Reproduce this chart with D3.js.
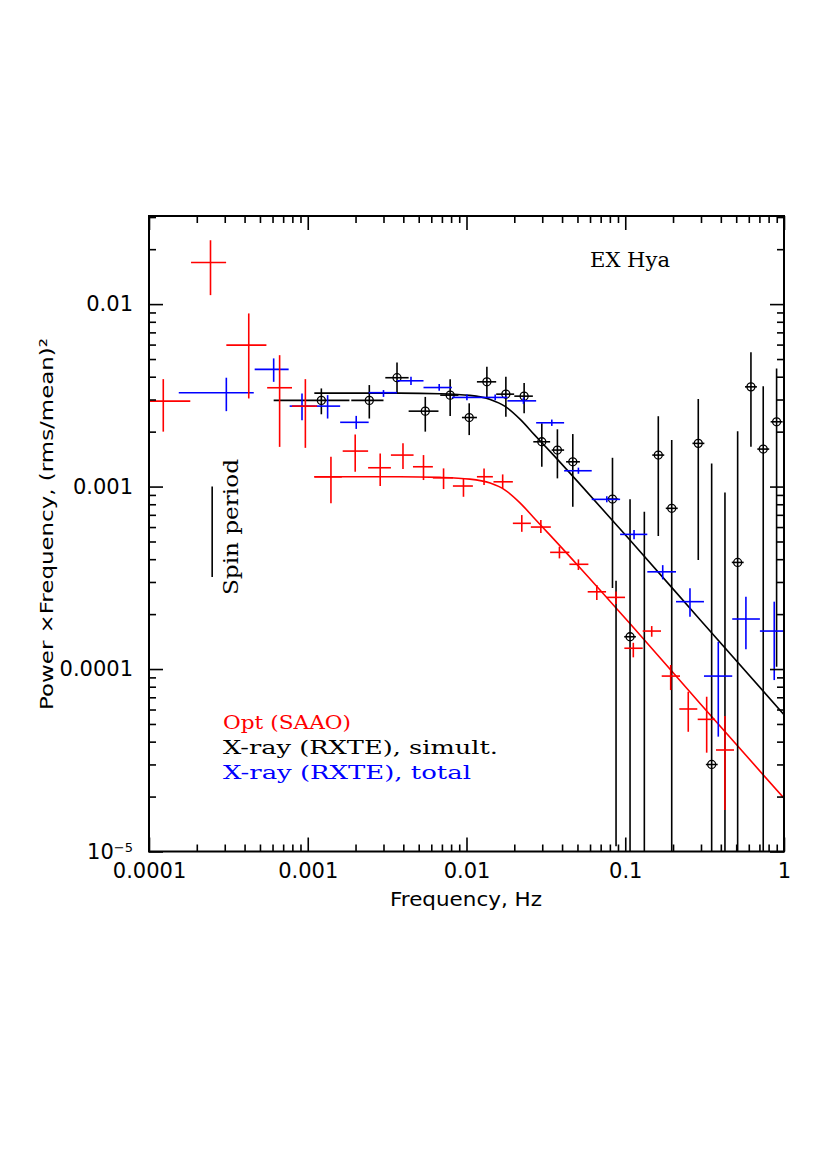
<!DOCTYPE html>
<html><head><meta charset="utf-8">
<script src="https://cdn.jsdelivr.net/npm/d3@7"></script>
<style>body{margin:0;background:#fff}</style>
</head><body><svg id="c" width="830" height="1175"></svg>
<script>
// ---- Optical (SAAO), red ----
const optFreq = [1.23e-4, 2.44e-4, 4.25e-4, 6.65e-4, 9.66e-4, 1.40e-3, 1.99e-3, 2.86e-3, 3.98e-3, 5.36e-3, 7.17e-3, 9.57e-3, 0.0129, 0.0169, 0.0223, 0.0294, 0.0385, 0.0507, 0.0662, 0.0875, 0.1124, 0.1468, 0.1933, 0.2494, 0.3258, 0.4247];
const optVal  = [2.94e-3, 0.0169, 5.96e-3, 3.48e-3, 2.76e-3, 1.13e-3, 1.565e-3, 1.268e-3, 1.488e-3, 1.284e-3, 1.117e-3, 1.007e-3, 1.132e-3, 1.062e-3, 6.29e-4, 6.0e-4, 4.36e-4, 3.75e-4, 2.65e-4, 2.47e-4, 1.30e-4, 1.615e-4, 9.15e-5, 6.04e-5, 5.30e-5, 3.60e-5];
const optFLo  = [1.0e-4, 1.84e-4, 3.07e-4, 5.55e-4, 7.96e-4, 1.10e-3, 1.66e-3, 2.40e-3, 3.34e-3, 4.60e-3, 6.14e-3, 8.21e-3, 0.01163, 0.01479, 0.01959, 0.02543, 0.03363, 0.04448, 0.058, 0.0761, 0.0987, 0.1288, 0.1697, 0.219, 0.286, 0.3728];
const optFHi  = [1.82e-4, 3.06e-4, 5.49e-4, 7.96e-4, 1.145e-3, 1.64e-3, 2.40e-3, 3.34e-3, 4.64e-3, 6.14e-3, 8.21e-3, 0.01097, 0.01466, 0.01959, 0.02543, 0.03398, 0.04448, 0.05858, 0.0757, 0.0997, 0.1288, 0.168, 0.2213, 0.2843, 0.3674, 0.4841];
const optVLo  = [2.0e-3, 0.0112, 3.04e-3, 1.65e-3, 1.63e-3, 8.09e-4, 1.205e-3, 1.007e-3, 1.247e-3, 1.086e-3, 9.69e-4, 8.79e-4, 1.019e-3, 9.77e-4, 5.65e-4, 5.56e-4, 4.04e-4, 3.49e-4, 2.39e-4, 2.27e-4, 1.159e-4, 1.503e-4, 7.67e-5, 4.53e-5, 3.48e-5, 1.688e-5];
const optVHi  = [3.88e-3, 0.0224, 8.89e-3, 5.25e-3, 3.88e-3, 1.456e-3, 1.93e-3, 1.52e-3, 1.725e-3, 1.488e-3, 1.258e-3, 1.109e-3, 1.258e-3, 1.166e-3, 6.98e-4, 6.55e-4, 4.68e-4, 3.99e-4, 2.89e-4, 2.66e-4, 1.393e-4, 1.72e-4, 1.052e-4, 7.51e-5, 7.05e-5, 5.53e-5];

// ---- X-ray (RXTE) total, blue ----
const totFreq = [3.07e-4, 6.1e-4, 9.2e-4, 1.334e-3, 2.02e-3, 3.0e-3, 4.47e-3, 6.73e-3, 0.01006, 0.01516, 0.02285, 0.03446, 0.0507, 0.0765, 0.1136, 0.1722, 0.2557, 0.3855, 0.5756, 0.868];
const totVal  = [3.27e-3, 4.39e-3, 2.76e-3, 2.76e-3, 2.25e-3, 3.27e-3, 3.8e-3, 3.49e-3, 3.08e-3, 3.08e-3, 2.95e-3, 2.237e-3, 1.221e-3, 8.51e-4, 5.47e-4, 3.41e-4, 2.34e-4, 9.15e-5, 1.88e-4, 1.615e-4];
const totFLo  = [1.54e-4, 4.63e-4, 7.69e-4, 1.117e-3, 1.60e-3, 2.42e-3, 3.65e-3, 5.36e-3, 8.09e-3, 0.0125, 0.0181, 0.02746, 0.0412, 0.0615, 0.0928, 0.1377, 0.2088, 0.3132, 0.472, 0.705];
const totFHi  = [4.57e-4, 7.58e-4, 1.117e-3, 1.60e-3, 2.42e-3, 3.65e-3, 5.36e-3, 8.09e-3, 0.0125, 0.0181, 0.02746, 0.0412, 0.0615, 0.0928, 0.1377, 0.2088, 0.3132, 0.472, 0.705, 1.0];
const totVLo  = [2.59e-3, 3.75e-3, 2.31e-3, 2.36e-3, 2.07e-3, 3.1e-3, 3.6e-3, 3.35e-3, 2.97e-3, 2.97e-3, 2.84e-3, 2.15e-3, 1.175e-3, 8.2e-4, 5.14e-4, 3.10e-4, 1.934e-4, 4.26e-5, 1.282e-4, 8.7e-5];
const totVHi  = [3.95e-3, 5.04e-3, 3.24e-3, 3.17e-3, 2.44e-3, 3.38e-3, 4.0e-3, 3.65e-3, 3.2e-3, 3.2e-3, 3.07e-3, 2.33e-3, 1.27e-3, 8.85e-4, 5.78e-4, 3.71e-4, 2.77e-4, 1.411e-4, 2.49e-4, 2.34e-4];

// ---- X-ray (RXTE) simultaneous, black (null = point below plot) ----
const simFreq = [1.218e-3, 2.442e-3, 3.65e-3, 5.50e-3, 7.89e-3, 0.0104, 0.01344, 0.0177, 0.02307, 0.02981, 0.03738, 0.04673, 0.0831, 0.0875, 0.1072, 0.1319, 0.1615, 0.1962, 0.2884, 0.3502, 0.4247, 0.5105, 0.6191, 0.7398, 0.8982];
const simVal  = [2.967e-3, 2.967e-3, 3.95e-3, 2.59e-3, 3.17e-3, 2.39e-3, 3.75e-3, 3.21e-3, 3.13e-3, 1.76e-3, 1.585e-3, 1.367e-3, 8.54e-4, null, 1.503e-4, null, 1.488e-3, 7.6e-4, 1.725e-3, 3.0e-5, null, 3.84e-4, 3.52e-3, 1.605e-3, 2.265e-3];
const simFLo  = [6.1e-4, 1.88e-3, 3.08e-3, 4.32e-3, 6.83e-3, 9.36e-3, 0.01163, 0.01538, 0.0200, 0.02635, 0.0344, 0.0424, 0.0765, 0.0875, 0.0985, 0.1319, 0.148, 0.180, 0.265, 0.322, 0.4247, 0.469, 0.568, 0.679, 0.824];
const simFHi  = [1.83e-3, 3.0e-3, 4.32e-3, 6.66e-3, 8.9e-3, 0.01163, 0.01538, 0.01996, 0.02618, 0.03363, 0.0412, 0.0518, 0.0905, 0.0875, 0.1167, 0.1319, 0.176, 0.214, 0.315, 0.382, 0.4247, 0.557, 0.675, 0.807, 0.98];
const simVLo  = [2.49e-3, 2.36e-3, 3.24e-3, 2.0e-3, 2.44e-3, 1.915e-3, 3.04e-3, 2.41e-3, 2.52e-3, 1.284e-3, 1.109e-3, 7.75e-4, 2.78e-4, 1.07e-5, 1e-5, 1e-5, 5.36e-4, 1e-5, 3.96e-4, 1e-5, 1e-5, 1e-5, 1.652e-3, 1e-5, 1.03e-4];
const simVHi  = [3.45e-3, 3.6e-3, 4.79e-3, 3.1e-3, 3.88e-3, 2.86e-3, 4.53e-3, 4.0e-3, 3.70e-3, 2.22e-3, 2.06e-3, 1.94e-3, 1.438e-3, 3.05e-4, 8.51e-4, 7.28e-4, 2.43e-3, 1.798e-3, 3.02e-3, 1.34e-3, 9.29e-4, 2.01e-3, 5.44e-3, 3.55e-3, 4.44e-3];

// ---- model curves ----
const modelFreq = [0.0011, 0.0038, 0.0068, 0.0105, 0.0141, 0.0175, 0.0218, 0.027, 0.0336, 0.052, 0.107, 0.296, 1];
const optModel  = [1.132e-3, 1.132e-3, 1.123e-3, 1.099e-3, 1.045e-3, 9.57e-4, 8.12e-4, 6.64e-4, 5.42e-4, 3.58e-4, 1.775e-4, 6.48e-5, 1.957e-5];
const simModel  = [3.253e-3, 3.253e-3, 3.229e-3, 3.16e-3, 3.004e-3, 2.751e-3, 2.335e-3, 1.908e-3, 1.559e-3, 1.028e-3, 5.10e-4, 1.862e-4, 5.62e-5];

// ---- spin period marker ----
const spinFreq = 2.5e-4;
const spinRange = [3.19e-4, 1.0e-3];

// ---- axes ticks ----
const xMajor = [1e-4, 1e-3, 1e-2, 1e-1, 1];
const xLabels = ["0.0001", "0.001", "0.01", "0.1", "1"];
const yMajor = [1e-5, 1e-4, 1e-3, 1e-2];
const yLabels = ["10", "0.0001", "0.001", "0.01"];

const legendText = ["Opt (SAAO)", "X-ray (RXTE), simult.", "X-ray (RXTE), total"];
const legendColor = ["#ff0000", "#000000", "#0000ff"];

// ================= drawing =================
const X0 = 149, X1 = 784, Y0 = 851.5, Y1 = 216;
const yTop = 0.0304;
const x = d3.scaleLog().domain([1e-4, 1]).range([X0, X1]);
const y = d3.scaleLog().domain([1e-5, yTop]).range([Y0, Y1]);
const svg = d3.select('#c');

const minorX = [], minorY = [];
for (let e = -4; e < 0; e++) for (let k = 2; k < 10; k++) minorX.push(k * Math.pow(10, e));
for (let e = -5; e < -1; e++) for (let k = 2; k < 10; k++) { const v = k * Math.pow(10, e); if (v < yTop * 0.99) minorY.push(v); }

svg.append('defs').append('clipPath').attr('id', 'clip')
  .append('rect').attr('x', X0).attr('y', Y1).attr('width', X1 - X0).attr('height', Y0 - Y1);

const plot = svg.append('g').attr('clip-path', 'url(#clip)');

// models
const line = d3.line().x(d => x(d[0])).y(d => y(d[1])).curve(d3.curveMonotoneX);
plot.append('path').attr('d', line(modelFreq.map((f, i) => [f, simModel[i]])))
  .attr('fill', 'none').attr('stroke', '#000').attr('stroke-width', 1.6);
plot.append('path').attr('d', line(modelFreq.map((f, i) => [f, optModel[i]])))
  .attr('fill', 'none').attr('stroke', '#ff0000').attr('stroke-width', 1.6);

function drawSeries(freq, val, fLo, fHi, vLo, vHi, color, circles) {
  const g = plot.append('g').attr('stroke', color).attr('stroke-width', 1.6).attr('fill', 'none');
  freq.forEach((f, i) => {
    if (val[i] !== null && fHi[i] > fLo[i]) {
      g.append('line').attr('x1', x(fLo[i])).attr('x2', x(fHi[i]))
        .attr('y1', y(val[i])).attr('y2', y(val[i]));
    }
    g.append('line').attr('x1', x(f)).attr('x2', x(f))
      .attr('y1', y(vLo[i])).attr('y2', y(vHi[i]));
    if (circles && val[i] !== null) {
      g.append('circle').attr('cx', x(f)).attr('cy', y(val[i])).attr('r', 4).attr('stroke-width', 1.3);
    }
  });
}
drawSeries(simFreq, simVal, simFLo, simFHi, simVLo, simVHi, '#000', true);
drawSeries(totFreq, totVal, totFLo, totFHi, totVLo, totVHi, '#0000ff', false);
drawSeries(optFreq, optVal, optFLo, optFHi, optVLo, optVHi, '#ff0000', false);

// spin period marker
svg.append('line').attr('x1', x(spinFreq)).attr('x2', x(spinFreq))
  .attr('y1', y(spinRange[0])).attr('y2', y(spinRange[1]))
  .attr('stroke', '#000').attr('stroke-width', 1.6);
svg.append('text').attr('transform', `translate(${x(spinFreq) + 25.5},595) rotate(-90)`)
  .attr('font-family', 'DejaVu Serif').attr('font-size', 21)
  .attr('textLength', 136).attr('lengthAdjust', 'spacingAndGlyphs')
  .text('Spin period');

// frame
svg.append('rect').attr('x', X0).attr('y', Y1).attr('width', X1 - X0).attr('height', Y0 - Y1)
  .attr('fill', 'none').attr('stroke', '#000').attr('stroke-width', 2);

function ax(gen, tx, ty, vals, size, fmt, pad) {
  const g = svg.append('g').attr('transform', `translate(${tx},${ty})`)
    .call(gen.tickValues(vals).tickSize(size).tickSizeOuter(0).tickPadding(pad || 3).tickFormat(fmt || (() => '')));
  g.select('.domain').remove();
  g.selectAll('.tick line').attr('stroke', '#000').attr('stroke-width', 1.6);
  g.attr('font-family', 'DejaVu Sans').attr('font-size', 21);
  g.selectAll('.tick text').attr('fill', '#000');
  return g;
}
// minor ticks
ax(d3.axisBottom(x), 0, Y0, minorX, -7);
ax(d3.axisTop(x), 0, Y1, minorX, -7);
ax(d3.axisLeft(y), X0, 0, minorY, -7);
ax(d3.axisRight(y), X1, 0, minorY, -7);
// major ticks + labels
ax(d3.axisBottom(x), 0, Y0, xMajor, -14, (d, i) => xLabels[i], 12);
ax(d3.axisTop(x), 0, Y1, xMajor, -14);
const gl = ax(d3.axisLeft(y), X0, 0, yMajor, -14, (d, i) => yLabels[i], 16);
gl.selectAll('.tick text').filter(d => d === 1e-5)
  .append('tspan').attr('dy', '-0.55em').attr('font-size', 13).text('−5');
ax(d3.axisRight(y), X1, 0, yMajor, -14);

// axis titles
svg.append('text').attr('x', 466).attr('y', 906).attr('text-anchor', 'middle')
  .attr('font-family', 'DejaVu Sans').attr('font-size', 19)
  .attr('textLength', 152).attr('lengthAdjust', 'spacingAndGlyphs')
  .text('Frequency, Hz');
svg.append('text').attr('transform', 'translate(53,524) rotate(-90)').attr('text-anchor', 'middle')
  .attr('font-family', 'DejaVu Sans').attr('font-size', 18)
  .attr('textLength', 372).attr('lengthAdjust', 'spacingAndGlyphs')
  .text('Power ×Frequency, (rms/mean)²');

// title inside
svg.append('text').attr('x', 590).attr('y', 267)
  .attr('font-family', 'DejaVu Serif').attr('font-size', 21)
  .attr('textLength', 80).attr('lengthAdjust', 'spacingAndGlyphs')
  .text('EX Hya');

// legend
const legW = [128, 275, 248];
legendText.forEach((t, i) => {
  svg.append('text').attr('x', 223).attr('y', 729 + i * 25)
    .attr('font-family', 'DejaVu Serif').attr('font-size', 19)
    .attr('fill', legendColor[i])
    .attr('textLength', legW[i]).attr('lengthAdjust', 'spacingAndGlyphs')
    .text(t);
});
</script>
</body></html>
